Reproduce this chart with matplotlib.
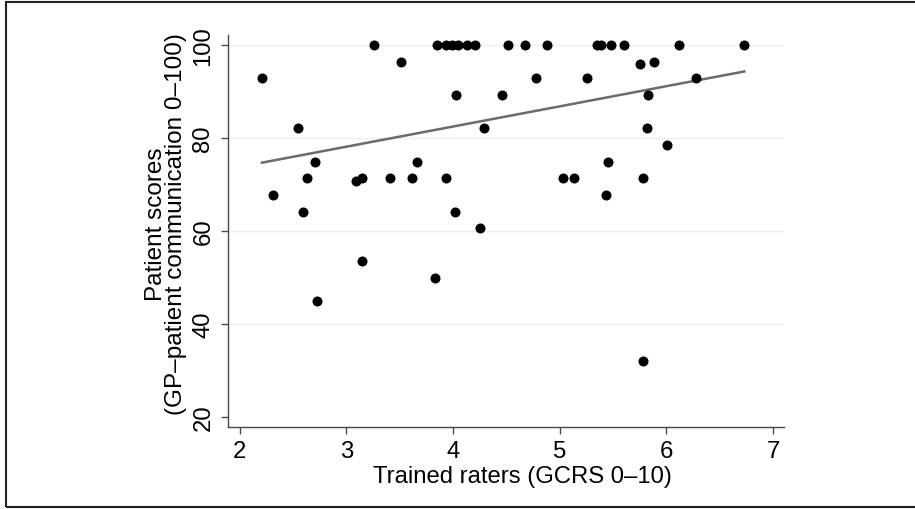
#!/usr/bin/env python3
"""
Scatter of patient scores against trained rater scores, with a linear fit.
"""
import matplotlib
matplotlib.use("Agg")
import matplotlib.pyplot as plt
from matplotlib.patches import Rectangle

plt.rcParams['font.family'] = ['Liberation Sans', 'DejaVu Sans']

# trained raters (GCRS 0-10)
rater_scores = [
    2.21, 2.31, 2.55, 2.59, 2.63, 2.71, 2.73, 3.09, 3.15, 3.15,
    3.26, 3.41, 3.51, 3.62, 3.66, 3.83, 3.85, 3.93, 3.93, 3.99,
    4.02, 4.03, 4.05, 4.13, 4.21, 4.25, 4.29, 4.46, 4.52, 4.67,
    4.78, 4.88, 5.03, 5.13, 5.26, 5.35, 5.39, 5.43, 5.45, 5.48,
    5.60, 5.75, 5.78, 5.78, 5.82, 5.83, 5.88, 6.01, 6.12, 6.28,
    6.73,
]
# patient scores (GP-patient communication 0-100)
patient_scores = [
    92.8, 67.8, 82.1, 64.2, 71.4, 74.9, 45.0, 70.7, 71.4, 53.6,
    100, 71.4, 96.3, 71.4, 74.9, 50.0, 100, 100, 71.4, 100,
    64.2, 89.2, 100, 100, 100, 60.7, 82.1, 89.2, 100, 100,
    92.8, 100, 71.4, 71.4, 92.8, 100, 100, 67.8, 74.9, 100,
    100, 95.9, 71.4, 32.1, 82.1, 89.2, 96.3, 78.5, 100, 92.8,
    100,
]

# fitted line, end points
fit_x = [2.21, 6.73]
fit_y = [74.7, 94.3]

x_ticks = [2, 3, 4, 5, 6, 7]
y_ticks = [20, 40, 60, 80, 100]
grid_levels = [40, 60, 80, 100]

x_title = "Trained raters (GCRS 0\u201310)"
y_title = "Patient scores\n(GP\u2013patient communication 0\u2013100)"


def plot_scatter():
    fig = plt.figure(figsize=(9.15, 5.10), dpi=100)
    ax = fig.add_axes([0.2495, 0.160, 0.6071, 0.770])

    for level in grid_levels:
        ax.axhline(level, color='#e8f0f2', lw=1.0, zorder=0)

    ax.scatter(rater_scores, patient_scores, s=52, color='black',
               linewidths=0, zorder=3)
    ax.plot(fit_x, fit_y, color='#6b6b6b', lw=1.8, zorder=2)

    ax.set_xlim(1.894, 7.10)
    ax.set_ylim(17.8, 102.2)
    ax.set_xticks(x_ticks)
    ax.set_yticks(y_ticks)
    ax.set_yticklabels([str(v) for v in y_ticks], rotation=90, va='center')

    for side in ('top', 'right'):
        ax.spines[side].set_visible(False)
    for side in ('left', 'bottom'):
        ax.spines[side].set_color('#4a4a4a')
        ax.spines[side].set_linewidth(1.0)
    ax.tick_params(axis='both', direction='out', length=5, width=1.0,
                   color='#4a4a4a', labelsize=17.2, labelcolor='black')
    ax.tick_params(axis='x', pad=4)
    ax.tick_params(axis='y', pad=5)

    ax.set_xlabel(x_title, fontsize=17.2, labelpad=2, x=0.53)
    ax.set_ylabel(y_title, fontsize=17.5, labelpad=4, linespacing=0.85,
                  y=0.52)

    border = Rectangle((5.5 / 915, 2.5 / 510), 1.2, (507.5 - 2.5) / 510,
                       transform=fig.transFigure, fill=False,
                       edgecolor='#222222', lw=1.5, clip_on=False)
    fig.patches.append(border)

    fig.savefig("out.png", dpi=100)
# end def: plot_scatter


if __name__ == "__main__":
    plot_scatter()
# end if
